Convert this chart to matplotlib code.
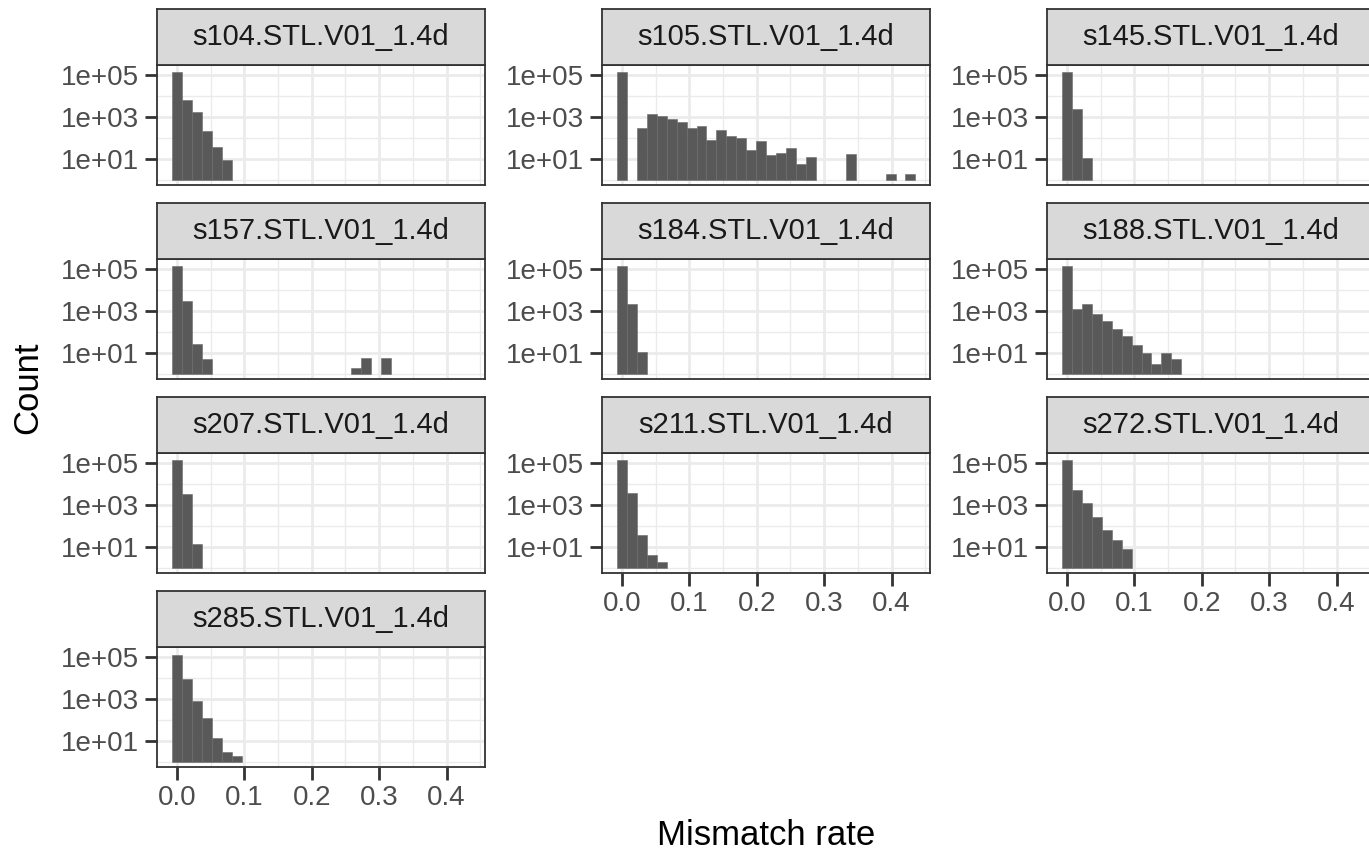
import numpy as np
import matplotlib
matplotlib.use("Agg")
import matplotlib.pyplot as plt
from matplotlib.ticker import FixedLocator, NullFormatter

plt.rcParams['font.family'] = ['Liberation Sans', 'DejaVu Sans']

# ---------------- data (histogram counts per bin, bin index 0..29) ----------------
samples = ["s104.STL.V01_1.4d", "s105.STL.V01_1.4d", "s145.STL.V01_1.4d",
           "s157.STL.V01_1.4d", "s184.STL.V01_1.4d", "s188.STL.V01_1.4d",
           "s207.STL.V01_1.4d", "s211.STL.V01_1.4d", "s272.STL.V01_1.4d",
           "s285.STL.V01_1.4d"]

n_bins = 30
bin_width = 0.428 / 29  # ggplot2 default: 30 bins over the shared data range

s104 = [135000, 6200, 1650, 220, 37, 9]
s105 = [132000, 0, 293, 1400, 1120, 810, 605, 293, 380, 79, 244, 131, 95, 26, 71,
        16, 20, 33, 6, 12, 0, 0, 0, 18, 0, 0, 0, 2, 0, 2]
s145 = [135000, 2500, 11]
s157 = [144000, 3100, 26, 5, 0, 0, 0, 0, 0, 0, 0, 0, 0, 0, 0, 0, 0, 0, 2, 6, 0, 6]
s184 = [140000, 2200, 11]
s188 = [140000, 1290, 2150, 745, 333, 134, 62, 23, 10, 3, 10, 5]
s207 = [140000, 3500, 14]
s211 = [144000, 3850, 36, 4, 2]
s272 = [135000, 5000, 1200, 260, 62, 21, 8]
s285 = [130000, 9400, 790, 119, 14, 3, 2]

all_counts = [s104, s105, s145, s157, s184, s188, s207, s211, s272, s285]

x_ticks = [0.0, 0.1, 0.2, 0.3, 0.4]
x_tick_labels = ["0.0", "0.1", "0.2", "0.3", "0.4"]
y_ticks = [1e1, 1e3, 1e5]
y_tick_labels = ["1e+01", "1e+03", "1e+05"]

# ---------------- layout ----------------
W, H = 1369, 850
fig = plt.figure(figsize=(W / 100, H / 100), dpi=100)
fig.patch.set_facecolor("white")

col_left = [157, 602, 1047]
panel_w = 328
row_top = [65, 259, 453, 647]
panel_h = 120
strip_h = 56

bar_color = "#595959"
grid_color = "#EBEBEB"
dark = "#333333"
tick_text = "#4D4D4D"

xlim = (-0.0295, 0.457)
ylim = (10 ** -0.24, 10 ** 5.475)

centers = np.arange(n_bins) * bin_width

n_cols = 3
for i, (name, counts) in enumerate(zip(samples, all_counts)):
    r, c = divmod(i, n_cols)
    left = col_left[c]
    top = row_top[r]
    ax = fig.add_axes([left / W, 1 - (top + panel_h) / H, panel_w / W, panel_h / H])
    ax.set_facecolor("white")
    ax.set_yscale("log")
    ax.set_xlim(*xlim)
    ax.set_ylim(*ylim)

    cnt = np.array(counts, dtype=float)
    xs = centers[:len(cnt)]
    m = cnt > 0
    ax.bar(xs[m], cnt[m] - 1, bottom=1, width=bin_width, color=bar_color,
           edgecolor="#6b6b6b", linewidth=0.4, zorder=3)

    # grid
    ax.xaxis.set_major_locator(FixedLocator(x_ticks))
    ax.xaxis.set_minor_locator(FixedLocator([0.05, 0.15, 0.25, 0.35, 0.45]))
    ax.yaxis.set_major_locator(FixedLocator(y_ticks))
    ax.yaxis.set_minor_locator(FixedLocator([1, 1e2, 1e4]))
    ax.yaxis.set_minor_formatter(NullFormatter())
    ax.xaxis.set_minor_formatter(NullFormatter())
    ax.grid(True, which="major", color=grid_color, linewidth=2.0, zorder=0)
    ax.grid(True, which="minor", color=grid_color, linewidth=1.0, zorder=0)
    ax.set_axisbelow(True)

    ax.set_yticklabels(y_tick_labels)
    ax.tick_params(axis="y", which="major", length=9, width=2, color=dark,
                   labelsize=20, labelcolor=tick_text, pad=4)
    ax.tick_params(which="minor", length=0)

    is_bottom = (i + n_cols) >= len(samples)
    if is_bottom:
        ax.set_xticklabels(x_tick_labels)
        ax.tick_params(axis="x", which="major", length=9, width=2, color=dark,
                       labelsize=20, labelcolor=tick_text, pad=4)
    else:
        ax.tick_params(axis="x", which="major", length=0, labelbottom=False)

    for sp in ax.spines.values():
        sp.set_color(dark)
        sp.set_linewidth(1.3)
        sp.set_zorder(5)

    # strip
    sax = fig.add_axes([left / W, 1 - top / H, panel_w / W, strip_h / H])
    sax.set_facecolor("#D9D9D9")
    sax.set_xticks([])
    sax.set_yticks([])
    for sp in sax.spines.values():
        sp.set_color(dark)
        sp.set_linewidth(1.3)
    sax.text(0.5, 0.5, name, transform=sax.transAxes, ha="center", va="center",
             fontsize=21, color="#1A1A1A")

fig.text(766 / W, (H - 845) / H, "Mismatch rate", ha="center", va="baseline",
         fontsize=25, color="black")
fig.text(28 / W, 1 - 388 / H, "Count", ha="center", va="center", rotation=90,
         fontsize=25, color="black")

fig.savefig("out.png", dpi=100, facecolor="white")
